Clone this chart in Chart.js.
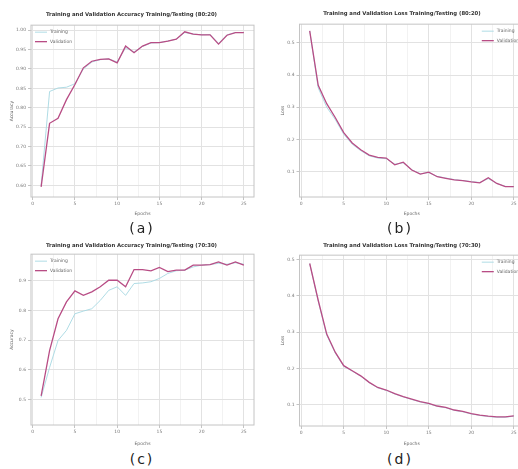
<!DOCTYPE html>
<html>
<head>
<meta charset="utf-8">
<script src="https://cdn.jsdelivr.net/npm/chart.js@4.4.1/dist/chart.umd.min.js"></script>
<style>
  html, body { margin: 0; padding: 0; background: #fff; }
  body { width: 518px; height: 469px; overflow: hidden; position: relative; }
  canvas { position: absolute; }
  .cap {
    position: absolute;
    font-family: 'DejaVu Sans', sans-serif;
    font-size: 14px;
    color: #222;
    letter-spacing: 2px;
    transform: translateX(-50%);
    white-space: nowrap;
  }
</style>
</head>
<body>
<canvas id="chartA" width="259" height="217" style="left:0;top:0"></canvas>
<canvas id="chartB" width="272" height="217" style="left:259px;top:0"></canvas>
<canvas id="chartC" width="259" height="213" style="left:0;top:234px"></canvas>
<canvas id="chartD" width="272" height="213" style="left:259px;top:234px"></canvas>
<div class="cap" style="left:142px;top:220px">(a)</div>
<div class="cap" style="left:400px;top:220px">(b)</div>
<div class="cap" style="left:142px;top:451px">(c)</div>
<div class="cap" style="left:400px;top:451px">(d)</div>

<script>
// Epochs and axis ticks
const epochs = [1, 2, 3, 4, 5, 6, 7, 8, 9, 10, 11, 12, 13, 14, 15, 16, 17, 18, 19, 20, 21, 22, 23, 24, 25];
const xTicks = [0, 5, 10, 15, 20, 25];
const xMinorTicks = [2.5, 7.5, 12.5, 17.5, 22.5];

// (a) accuracy, split 80:20
const accTrainA = [0.600, 0.842, 0.851, 0.853, 0.862, 0.900, 0.918, 0.924, 0.926, 0.918, 0.955, 0.944, 0.958, 0.967, 0.968, 0.972, 0.977, 0.994, 0.990, 0.988, 0.989, 0.966, 0.988, 0.994, 0.994];
const accValA = [0.596, 0.760, 0.773, 0.821, 0.860, 0.903, 0.920, 0.925, 0.926, 0.916, 0.959, 0.942, 0.959, 0.968, 0.968, 0.972, 0.977, 0.996, 0.990, 0.988, 0.988, 0.964, 0.987, 0.994, 0.994];
const yTicksA = [0.60, 0.65, 0.70, 0.75, 0.80, 0.85, 0.90, 0.95, 1.00];

// (b) loss, split 80:20
const lossTrainB = [0.537, 0.360, 0.300, 0.262, 0.216, 0.185, 0.165, 0.149, 0.142, 0.140, 0.123, 0.127, 0.106, 0.093, 0.097, 0.085, 0.080, 0.075, 0.072, 0.069, 0.066, 0.078, 0.063, 0.054, 0.053];
const lossValB = [0.537, 0.368, 0.311, 0.268, 0.221, 0.189, 0.168, 0.151, 0.144, 0.142, 0.121, 0.129, 0.105, 0.092, 0.098, 0.084, 0.079, 0.074, 0.072, 0.068, 0.065, 0.081, 0.063, 0.053, 0.053];
const yTicksB = [0.1, 0.2, 0.3, 0.4, 0.5];

// (c) accuracy, split 70:30
const accTrainC = [0.507, 0.608, 0.699, 0.733, 0.789, 0.798, 0.806, 0.834, 0.868, 0.880, 0.851, 0.891, 0.893, 0.897, 0.908, 0.925, 0.934, 0.936, 0.947, 0.953, 0.955, 0.959, 0.956, 0.961, 0.956];
const accValC = [0.512, 0.665, 0.772, 0.829, 0.866, 0.851, 0.863, 0.880, 0.902, 0.902, 0.880, 0.938, 0.938, 0.934, 0.945, 0.931, 0.936, 0.936, 0.953, 0.953, 0.955, 0.964, 0.953, 0.964, 0.953];
const yTicksC = [0.5, 0.6, 0.7, 0.8, 0.9];

// (d) loss, split 70:30
const lossTrainD = [0.489, 0.385, 0.292, 0.243, 0.206, 0.193, 0.179, 0.161, 0.147, 0.140, 0.130, 0.122, 0.115, 0.108, 0.103, 0.096, 0.092, 0.085, 0.081, 0.075, 0.071, 0.068, 0.066, 0.066, 0.069];
const lossValD = [0.489, 0.388, 0.295, 0.245, 0.208, 0.194, 0.180, 0.162, 0.148, 0.141, 0.131, 0.123, 0.116, 0.109, 0.104, 0.097, 0.093, 0.086, 0.082, 0.076, 0.072, 0.069, 0.067, 0.067, 0.070];
const yTicksD = [0.1, 0.2, 0.3, 0.4, 0.5];

const trainColor = '#a6d8e2';
const valColor = '#b84d85';
const fontFamily = "'DejaVu Sans', sans-serif";

// Legend drawn inside the plot area, like matplotlib's
const innerLegend = {
    id: 'innerLegend',
    afterDatasetsDraw(chart, args, opts) {
        const ctx = chart.ctx;
        const area = chart.chartArea;
        const items = chart.data.datasets;
        const lineLen = 12, gap = 3, rowH = 9.5;
        ctx.save();
        ctx.font = '4.5px ' + fontFamily;
        const textW = Math.max(...items.map(d => ctx.measureText(d.label).width));
        const w = lineLen + gap + textW;
        const x0 = opts.side === 'right' ? area.right - 5 - w : area.left + 4;
        let y = area.top + 7;
        items.forEach(d => {
            ctx.strokeStyle = d.borderColor;
            ctx.lineWidth = d.borderWidth;
            ctx.beginPath();
            ctx.moveTo(x0, y);
            ctx.lineTo(x0 + lineLen, y);
            ctx.stroke();
            ctx.fillStyle = '#666';
            ctx.textBaseline = 'middle';
            ctx.fillText(d.label, x0 + lineLen + gap, y);
            y += rowH;
        });
        ctx.restore();
    }
};

// Grey frame round the plot area
const plotFrame = {
    id: 'plotFrame',
    afterDraw(chart) {
        const ctx = chart.ctx;
        const a = chart.chartArea;
        ctx.save();
        ctx.strokeStyle = '#c4c4c4';
        ctx.lineWidth = 1;
        ctx.strokeRect(a.left, a.top, a.right - a.left, a.bottom - a.top);
        ctx.restore();
    }
};

function makeChart(id, cfg) {
    return new Chart(document.getElementById(id), {
        type: 'line',
        data: {
            labels: epochs,
            datasets: [
                { label: 'Training', data: cfg.train, borderColor: trainColor, borderWidth: 0.9, pointRadius: 0, order: 1 },
                { label: 'Validation', data: cfg.val, borderColor: valColor, borderWidth: 1.3, pointRadius: 0, order: 0 }
            ]
        },
        options: {
            responsive: false,
            animation: false,
            layout: { padding: { left: cfg.left, right: cfg.right, top: 0, bottom: 0 } },
            plugins: {
                legend: { display: false },
                tooltip: { enabled: false },
                title: {
                    display: true,
                    text: cfg.title,
                    color: '#333',
                    font: { family: fontFamily, size: 5.3, weight: 'bold' },
                    padding: { top: cfg.titleTop, bottom: cfg.titleBottom }
                },
                innerLegend: { side: cfg.legendSide }
            },
            scales: {
                x: {
                    type: 'linear',
                    min: -0.2,
                    max: 26.2,
                    afterBuildTicks: s => { s.ticks = xTicks.concat(xMinorTicks).map(v => ({ value: v })); },
                    afterFit: s => { s.height = cfg.xh; },
                    border: { display: false },
                    grid: {
                        color: c => xTicks.includes(c.tick.value) ? '#e2e2e2' : '#f2f2f2',
                        tickColor: c => xTicks.includes(c.tick.value) ? '#c4c4c4' : 'rgba(0,0,0,0)',
                        tickLength: 3
                    },
                    ticks: {
                        autoSkip: false,
                        maxRotation: 0,
                        padding: 1,
                        color: '#777',
                        font: { family: fontFamily, size: 4.5 },
                        callback: v => xTicks.includes(v) ? String(v) : ''
                    },
                    title: {
                        display: true,
                        text: 'Epochs',
                        color: '#666',
                        font: { family: fontFamily, size: 4.5 },
                        padding: { top: 4, bottom: 0 }
                    }
                },
                y: {
                    min: cfg.ymin,
                    max: cfg.ymax,
                    afterBuildTicks: s => { s.ticks = cfg.yTicks.map(v => ({ value: v })); },
                    afterFit: s => { s.width = cfg.yw; },
                    border: { display: false },
                    grid: { color: '#e2e2e2', tickColor: '#c4c4c4', tickLength: 3 },
                    ticks: {
                        padding: 2,
                        color: '#777',
                        font: { family: fontFamily, size: 4.5 },
                        callback: v => v.toFixed(cfg.digits)
                    },
                    title: {
                        display: true,
                        text: cfg.ytitle,
                        color: '#666',
                        font: { family: fontFamily, size: 4.5 },
                        padding: { top: 0, bottom: 2 }
                    }
                }
            }
        },
        plugins: [innerLegend, plotFrame]
    });
}

makeChart('chartA', {
    title: 'Training and Validation Accuracy Training/Testing (80:20)',
    ytitle: 'Accuracy', train: accTrainA, val: accValA, yTicks: yTicksA, digits: 2,
    ymin: 0.57, ymax: 1.013, left: 9, yw: 22, xh: 20, right: 5, titleTop: 11.5, titleBottom: 7.3, legendSide: 'left'
});
makeChart('chartB', {
    title: 'Training and Validation Loss Training/Testing (80:20)',
    ytitle: 'Loss', train: lossTrainB, val: lossValB, yTicks: yTicksB, digits: 1,
    ymin: 0.021, ymax: 0.558, left: 21, yw: 19.5, xh: 20, right: 7, titleTop: 10.5, titleBottom: 7.3, legendSide: 'right'
});
makeChart('chartC', {
    title: 'Training and Validation Accuracy Training/Testing (70:30)',
    ytitle: 'Accuracy', train: accTrainC, val: accValC, yTicks: yTicksC, digits: 1,
    ymin: 0.414, ymax: 0.99, left: 9, yw: 22, xh: 22, right: 5, titleTop: 8, titleBottom: 5.8, legendSide: 'left'
});
makeChart('chartD', {
    title: 'Training and Validation Loss Training/Testing (70:30)',
    ytitle: 'Loss', train: lossTrainD, val: lossValD, yTicks: yTicksD, digits: 1,
    ymin: 0.042, ymax: 0.512, left: 21, yw: 19.5, xh: 21, right: 7, titleTop: 8, titleBottom: 6.8, legendSide: 'right'
});
</script>
</body>
</html>
